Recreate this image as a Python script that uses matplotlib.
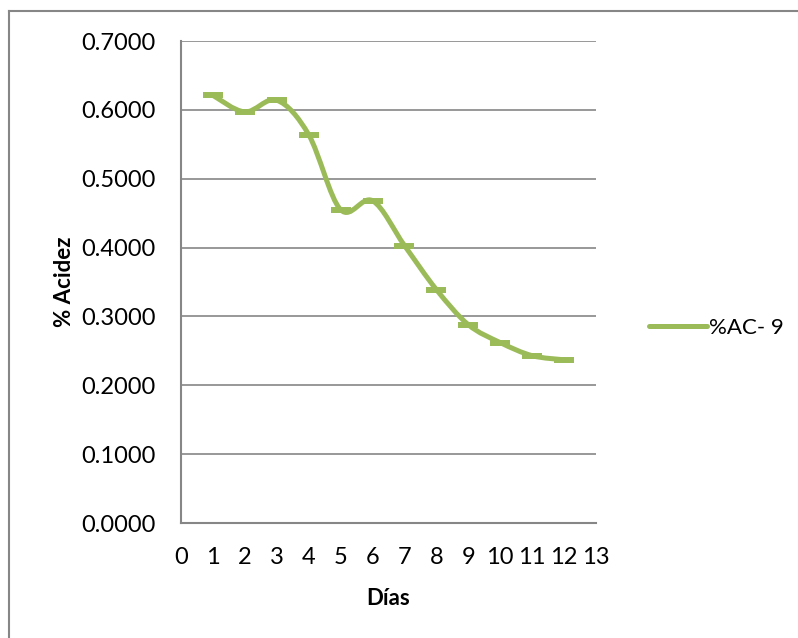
import numpy as np
import matplotlib
matplotlib.use('Agg')
import matplotlib.pyplot as plt
from matplotlib.path import Path
from matplotlib.patches import PathPatch
from matplotlib.lines import Line2D

plt.rcParams['font.family'] = ['Lato', 'DejaVu Sans']

# acidity over the days of storage
dias = [1, 2, 3, 4, 5, 6, 7, 8, 9, 10, 11, 12]
acidez = [0.621, 0.597, 0.614, 0.564, 0.455, 0.468, 0.403, 0.339, 0.288, 0.262, 0.243, 0.237]
serie = '%AC- 9'

verde = '#9BBB59'
gris = '#868686'


def smooth_path(x, y):
    # Catmull-Rom style bezier through the points, like a spreadsheet "smoothed line"
    pts = np.column_stack([x, y])
    verts = [pts[0]]
    codes = [Path.MOVETO]
    n = len(pts)
    for i in range(n - 1):
        p0 = pts[i - 1] if i > 0 else pts[i]
        p1 = pts[i]
        p2 = pts[i + 1]
        p3 = pts[i + 2] if i + 2 < n else pts[i + 1]
        c1 = p1 + (p2 - p0) / 6.0
        c2 = p2 - (p3 - p1) / 6.0
        verts += [c1, c2, p2]
        codes += [Path.CURVE4] * 3
    return Path(verts, codes)


fig = plt.figure( figsize = ( 7.98, 6.38 ), dpi = 100 )
ax = fig.add_axes( [ 181/798, 1 - 523/638, 415/798, 482/638 ] )

ax.add_patch( PathPatch( smooth_path( dias, acidez ), facecolor = 'none',
                         edgecolor = verde, lw = 3.6, capstyle = 'round', zorder = 3 ) )
ax.plot( dias, acidez, ls = 'none', marker = '_', markersize = 14,
         markeredgewidth = 4.3, color = verde, zorder = 4 )

ax.set_xlim( 0, 13 )
ax.set_ylim( 0, 0.7 )
ax.set_xticks( range( 0, 14 ) )
ax.set_yticks( np.arange( 0, 0.71, 0.1 ) )
ax.set_yticklabels( [ '%.4f' % v for v in np.arange( 0, 0.71, 0.1 ) ] )
ax.tick_params( length = 0, labelsize = 17, colors = 'black' )
ax.tick_params( axis = 'y', pad = 18 )
ax.tick_params( axis = 'x', pad = 17 )

ax.grid( axis = 'y', color = gris, lw = 1.2 )
ax.set_axisbelow( True )
for s in [ 'top', 'right' ]:
    ax.spines[ s ].set_visible( False )
for s in [ 'left', 'bottom' ]:
    ax.spines[ s ].set_color( gris )
    ax.spines[ s ].set_linewidth( 1.5 )

ax.set_xlabel( 'Días', fontsize = 16, fontweight = 'bold', labelpad = 15 )
ax.set_ylabel( '% Acidez', fontsize = 16, fontweight = 'bold', labelpad = 5 )

handle = Line2D( [], [], color = verde, lw = 3.6, solid_capstyle = 'round' )
fig.legend( [ handle ], [ serie ], loc = 'center left',
            bbox_to_anchor = ( 629/798, 1 - 328/638 ), frameon = False,
            fontsize = 16, handlelength = 2.6, handletextpad = 0.1 )

# outer chart border (runs off the right and bottom edges)
fig.add_artist( Line2D( [ 9/798, 9/798 ], [ 1 - 11/638, -0.1 ], color = gris, lw = 1.5 ) )
fig.add_artist( Line2D( [ 9/798, 1.1 ], [ 1 - 11/638, 1 - 11/638 ], color = gris, lw = 1.5 ) )

fig.savefig( 'out.png', dpi = 100 )
